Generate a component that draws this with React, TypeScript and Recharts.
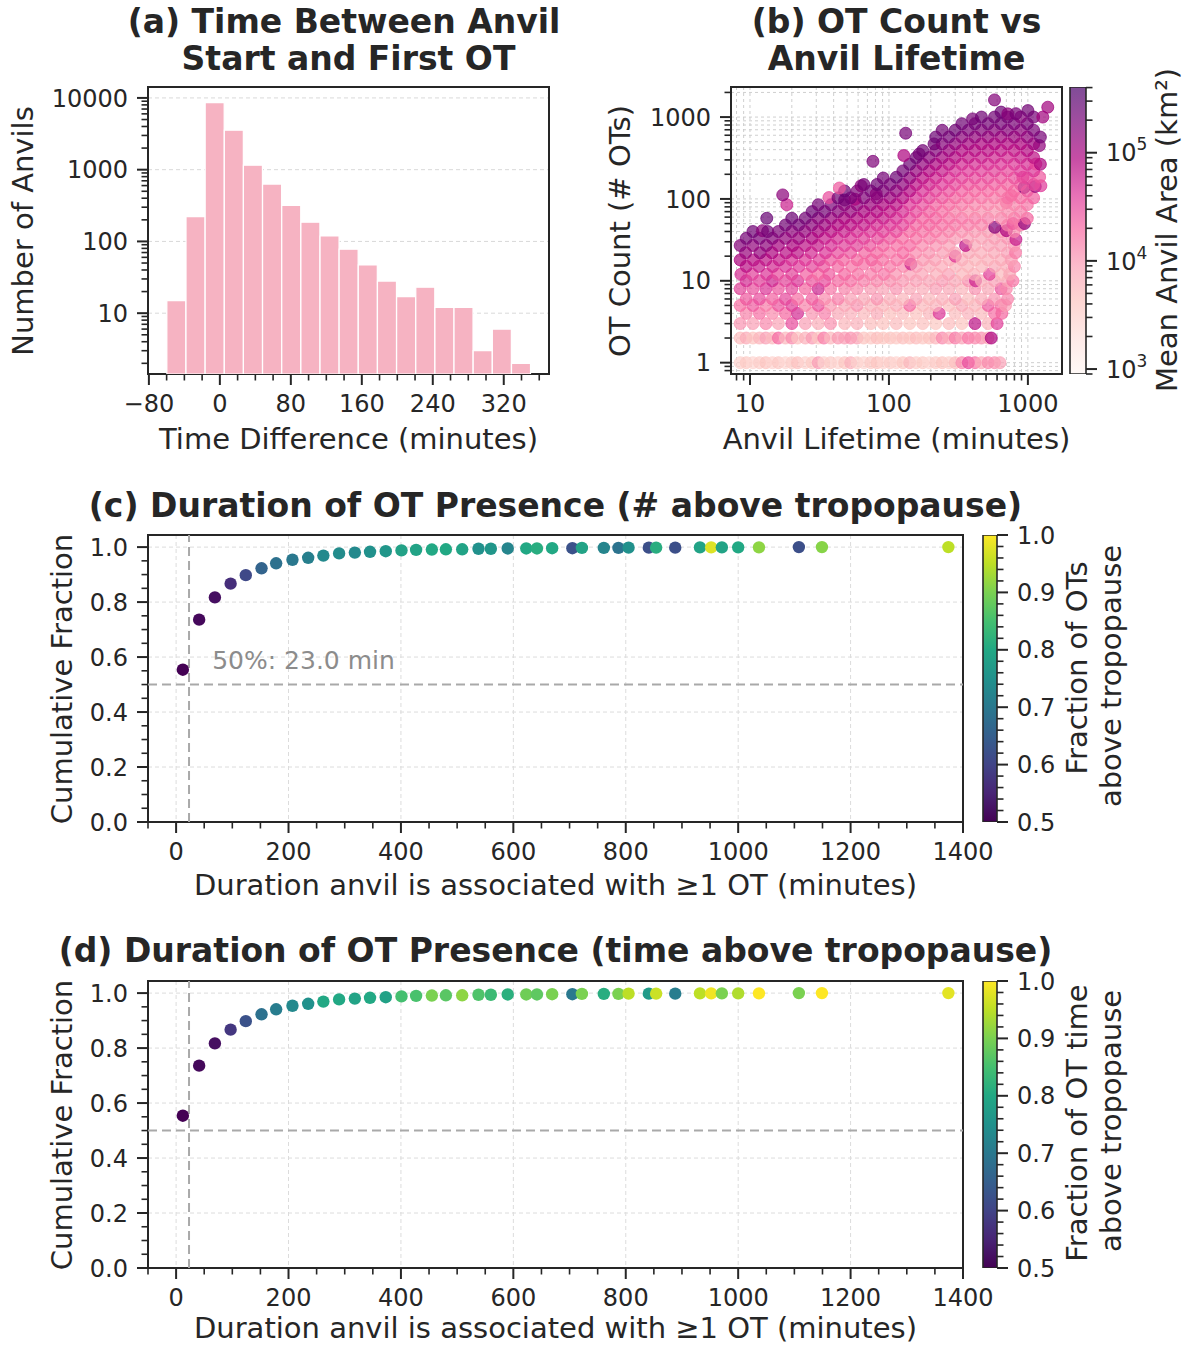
import React from 'react';
import {
  Bar,
  CartesianGrid,
  ComposedChart,
  ReferenceArea,
  ReferenceLine,
  Scatter,
  ScatterChart,
  XAxis,
  YAxis,
} from 'recharts';

const FONT = '"DejaVu Sans", "Liberation Sans", sans-serif';
const INK = '#262626';

// (a) time between anvil start and first OT, 19 bins
const binCenters = [-49.0, -27.4, -5.8, 15.8, 37.3, 58.9, 80.5, 102.1, 123.7, 145.2, 166.8, 188.4, 210.0, 231.6, 253.2, 274.7, 296.3, 317.9, 339.5];
const binCounts = [15, 221, 8610, 3550, 1156, 629, 318, 185, 119, 78, 47, 28, 17, 23, 12, 12, 3, 6, 2];

// (b) OT count vs anvil lifetime. [lifetime min, area km2] for the 1 and 2 OT rows
const otSingle: [number, number][] = [
  [8.5, 3000], [9.4, 3600], [10.5, 2600], [11.7, 3300], [13, 4200], [14.5, 2800], [16, 3800], [18, 2500], [20, 3200], [22, 4500],
  [25, 2800], [28, 3600], [31, 9500], [34, 3000], [38, 3500], [43, 2700], [48, 3900], [53, 6500], [59, 3100], [66, 2600],
  [74, 3500], [82, 4200], [91, 2800], [102, 3400], [113, 2700], [126, 3900], [141, 5500], [157, 3100], [175, 3600], [195, 2600],
  [217, 3400], [242, 4200], [270, 3100], [300, 4900], [335, 12000], [373, 30000], [416, 16000], [463, 7000], [517, 12000], [575, 11000], [630, 8500],
];
const otDouble: [number, number][] = [
  [8.5, 5000], [9.4, 7000], [10.5, 4200], [11.7, 6000], [13, 8500], [14.5, 5400], [16, 20000], [18, 5600], [20, 12500], [22, 4500],
  [25, 6300], [28, 9800], [31, 4200], [34, 15000], [38, 5600], [43, 9800], [48, 9000], [53, 10500], [59, 8400], [66, 4200],
  [74, 3700], [82, 4800], [91, 3900], [102, 4200], [113, 3500], [126, 4500], [141, 4100], [157, 5000], [175, 3800], [195, 4300],
  [217, 5600], [242, 12500], [270, 7000], [300, 15000], [335, 8400], [373, 16000], [416, 12500], [463, 11000], [517, 7700], [545, 90000],
];
// [lifetime min, OT count, area km2]
const otLow: [number, number, number][] = [
  [8.5, 3, 10500], [10.5, 3, 9000], [13, 3, 12500], [16, 3, 8200], [20, 3, 30000], [25, 3, 9000], [31, 3, 6800], [38, 3, 11000], [48, 3, 5700], [59, 3, 6300], [74, 3, 4800], [91, 3, 4400], [113, 3, 5200], [141, 3, 4100], [175, 3, 4500], [217, 3, 3900], [270, 3, 5000], [335, 3, 4200], [416, 3, 70000], [517, 3, 6000], [600, 3, 36000],
  [9.4, 4, 13500], [11.7, 4, 18000], [14.5, 4, 12000], [18, 4, 20000], [22, 4, 48000], [28, 4, 10500], [34.5, 4, 14000], [43, 4, 7500], [53, 4, 6500], [66, 4, 5400], [82, 4, 7200], [102, 4, 4700], [126, 4, 5100], [157, 4, 4400], [195, 4, 5700], [230, 4, 42000], [300, 4, 5000], [373, 4, 6300], [463, 4, 5400], [575, 4, 18000], [650, 4, 20000],
  [8.5, 5, 18000], [10.5, 5, 24000], [13, 5, 15000], [16, 5, 26000], [20, 5, 36000], [25, 5, 13500], [31, 5, 26000], [38, 5, 9800], [48, 5, 7500], [59, 5, 10500], [74, 5, 6300], [91, 5, 5700], [113, 5, 6800], [141, 5, 20000], [175, 5, 5400], [217, 5, 6200], [270, 5, 5000], [335, 5, 7800], [416, 5, 5900], [517, 5, 24000], [641, 5, 18000], [690, 5, 9000],
  [9.4, 6, 25000], [11.7, 6, 30000], [14.5, 6, 22000], [18, 6, 32000], [22, 6, 18000], [28, 6, 22000], [34.5, 6, 12000], [43, 6, 14000], [53, 6, 9000], [66, 6, 7800], [82, 6, 10500], [102, 6, 6900], [126, 6, 6000], [157, 6, 8200], [195, 6, 5500], [242, 6, 6400], [300, 6, 9000], [373, 6, 5200], [463, 6, 7200], [575, 6, 10500], [714, 6, 13500],
  [8.5, 8, 34000], [10.5, 8, 28000], [13, 8, 42000], [16, 8, 26000], [20, 8, 32000], [25, 8, 20000], [31, 8, 54000], [38, 8, 16000], [48, 8, 13500], [59, 8, 12000], [74, 8, 9800], [91, 8, 8200], [113, 8, 10500], [141, 8, 7500], [175, 8, 6800], [217, 8, 9000], [270, 8, 7800], [335, 8, 6000], [416, 8, 11000], [517, 8, 7500], [641, 8, 26000], [700, 8, 12000],
  [9.4, 10, 48000], [11.7, 10, 36000], [14.5, 10, 54000], [18, 10, 34000], [22, 10, 42000], [28, 10, 26000], [34.5, 10, 30000], [43, 10, 20000], [53, 10, 18000], [66, 10, 14000], [82, 10, 13000], [102, 10, 11500], [126, 10, 10000], [157, 10, 9000], [195, 10, 8000], [242, 10, 9500], [300, 10, 7500], [373, 10, 11500], [420, 10, 54000], [463, 10, 6800], [575, 10, 9000], [714, 10, 8000], [780, 10, 16000],
];
const otMid: [number, number, number][] = [
  [8.6, 12, 48000], [10.4, 12, 36000], [13.2, 12, 42000], [15.8, 12, 30000], [20, 12, 34000], [25.5, 12, 22000], [31, 12, 19000], [37, 12, 24000], [48, 12, 20000], [60, 12, 17000], [74, 12, 14000], [92, 12, 16000], [112, 12, 11000], [141, 12, 9000], [173, 12, 8000], [220, 12, 6600], [268, 12, 8700], [338, 12, 5700], [410, 12, 6300], [530, 12, 35000], [645, 12, 5400], [740, 12, 7500],
  [9.4, 15, 72000], [11.6, 15, 60000], [14.6, 15, 50000], [18, 15, 44000], [22.5, 15, 38000], [28, 15, 33000], [34, 15, 26000], [43, 15, 21000], [54, 15, 17000], [66, 16, 18000], [81, 15, 17000], [102, 15, 15000], [127, 15, 12500], [144, 16, 55000], [158, 15, 9500], [196, 15, 7800], [240, 15, 7200], [302, 15, 6300], [371, 15, 6000], [465, 15, 5800], [578, 15, 7500], [710, 15, 6800], [800, 15, 13000],
  [8.5, 18, 90000], [10.6, 18, 75000], [13, 18, 68000], [16.2, 18, 62000], [20, 18, 45000], [25, 18, 40000], [31.5, 18, 36000], [38, 18, 25000], [47, 18, 21000], [59, 18, 20000], [75, 18, 21000], [90, 18, 17000], [114, 18, 16000], [140, 18, 14000], [176, 18, 9800], [215, 18, 8700], [272, 18, 7200], [300, 20, 40000], [336, 18, 6900], [418, 18, 6000], [515, 18, 6600], [640, 18, 7200], [760, 18, 9000],
  [9.3, 22, 120000], [11.8, 22, 130000], [14.4, 22, 90000], [18.2, 22, 75000], [22, 22, 70000], [27.6, 22, 50000], [35, 22, 42000], [43, 22, 30000], [53, 22, 26000], [67, 22, 21000], [82, 22, 20000], [101, 22, 16000], [126, 22, 19000], [156, 22, 12500], [194, 22, 10500], [244, 22, 9300], [298, 22, 8100], [375, 22, 7500], [460, 22, 6900], [572, 22, 7800], [712, 22, 9000], [815, 22, 15000],
  [8.5, 27, 160000], [10.5, 27, 135000], [13.1, 27, 145000], [16, 27, 100000], [20.3, 27, 90000], [25, 27, 70000], [30.8, 27, 62000], [38.5, 27, 45000], [48, 27, 36000], [59, 27, 34000], [73, 27, 26000], [91, 27, 21000], [114, 27, 18000], [141, 27, 19000], [174, 27, 12500], [218, 27, 10800], [270, 27, 9000], [356, 27, 70000], [415, 27, 7500], [520, 27, 8200], [640, 27, 9000], [797, 27, 10500],
  [9.4, 33, 210000], [11.7, 33, 190000], [14.5, 33, 160000], [18, 33, 130000], [22.4, 33, 115000], [28, 33, 90000], [34.5, 33, 60000], [42.5, 33, 48000], [53, 33, 42000], [66, 33, 35000], [83, 33, 30000], [102, 33, 24000], [125, 33, 18000], [157, 33, 17000], [196, 33, 15000], [242, 33, 12500], [300, 33, 10000], [372, 33, 9000], [464, 33, 8400], [575, 33, 9300], [715, 33, 10500], [820, 32, 60000],
  [10.5, 40, 230000], [12.3, 41, 150000], [13.4, 40, 210000], [16, 40, 180000], [20, 40, 140000], [24.8, 40, 125000], [31, 40, 95000], [38.4, 40, 72000], [47.7, 40, 58000], [59, 40, 46000], [73.5, 40, 40000], [91, 40, 35000], [113, 40, 30000], [141, 40, 20000], [175, 40, 17000], [217, 40, 15500], [270, 40, 13500], [335, 40, 10800], [416, 40, 9800], [517, 40, 9300], [641, 40, 10500], [700, 41, 90000], [797, 40, 12000],
  [18, 48, 220000], [22.4, 48, 200000], [27.8, 48, 150000], [34.5, 48, 115000], [43, 48, 85000], [53, 48, 72000], [66, 48, 60000], [82, 48, 46000], [102, 48, 40000], [126, 48, 32000], [157, 48, 21000], [195, 48, 20000], [242, 48, 17000], [300, 48, 15000], [373, 48, 13800], [463, 48, 12900], [578, 45, 160000], [714, 48, 13500], [780, 50, 25000], [886, 48, 15000], [945, 50, 130000],
  [13.2, 58, 260000], [20, 58, 240000], [25, 58, 220000], [31, 58, 150000], [38.4, 58, 115000], [47.7, 58, 90000], [59, 58, 78000], [73.5, 58, 66000], [91, 58, 58000], [113, 58, 44000], [141, 58, 30000], [175, 58, 21000], [217, 58, 21000], [270, 58, 17000], [335, 58, 16000], [416, 58, 15000], [517, 58, 14000], [641, 58, 13500], [797, 58, 15500], [990, 58, 20000],
];
const otHigh: [number, number, number][] = [
  [28, 70, 240000], [34.5, 70, 210000], [43, 70, 150000], [53, 70, 125000], [66, 70, 95000], [82, 70, 80000], [102, 70, 62000], [126, 70, 46000], [157, 70, 30000], [195, 70, 22000], [242, 70, 18000], [300, 70, 13500], [373, 70, 11500], [463, 70, 11000], [575, 70, 10000], [700, 90, 22000], [714, 70, 12000], [886, 70, 14000],
  [18.4, 85, 55000], [31, 85, 200000], [38.4, 85, 190000], [47.7, 85, 150000], [59, 85, 135000], [73.5, 85, 115000], [91, 85, 88000], [113, 85, 72000], [141, 85, 40000], [175, 85, 28000], [217, 85, 21000], [270, 85, 18000], [335, 85, 15000], [416, 85, 13000], [517, 85, 12500], [641, 85, 11500], [797, 85, 13000], [990, 85, 16000],
  [17.2, 112, 150000], [37, 104, 30000], [48, 97, 200000], [57, 99, 90000], [43, 103, 220000], [53, 103, 200000], [66, 103, 170000], [82, 103, 140000], [102, 103, 115000], [126, 103, 78000], [157, 103, 44000], [195, 103, 32000], [242, 103, 25000], [300, 103, 20000], [373, 103, 18000], [463, 103, 16000], [575, 103, 15000], [714, 103, 17000], [760, 110, 18000], [886, 103, 19000], [1100, 103, 22000],
  [48, 125, 240000], [59, 125, 180000], [74, 125, 200000], [81, 115, 150000], [91, 125, 170000], [113, 125, 135000], [141, 125, 80000], [175, 125, 45000], [217, 125, 34000], [270, 125, 27000], [335, 125, 22000], [416, 125, 20000], [517, 125, 18500], [641, 125, 17500], [797, 125, 19000], [940, 138, 200000], [990, 125, 24000], [1130, 142, 120000], [1240, 145, 40000],
  [44, 136, 25000], [63, 145, 150000], [66, 150, 210000], [82, 150, 230000], [102, 150, 190000], [126, 150, 140000], [157, 150, 72000], [195, 150, 50000], [242, 150, 38000], [300, 150, 30000], [373, 150, 25000], [463, 150, 24000], [575, 150, 22000], [714, 150, 21000], [886, 150, 23000], [1100, 150, 28000],
  [91, 180, 210000], [113, 184, 240000], [141, 180, 130000], [175, 180, 72000], [217, 180, 52000], [270, 180, 40000], [335, 180, 33000], [416, 180, 30000], [517, 180, 28000], [641, 180, 26000], [797, 180, 27000], [920, 184, 30000], [990, 180, 32000], [1215, 185, 25000],
  [126, 220, 210000], [157, 220, 125000], [195, 220, 80000], [242, 220, 62000], [300, 220, 44000], [373, 220, 38000], [463, 220, 36000], [575, 220, 34000], [714, 220, 30000], [886, 220, 38000], [1100, 220, 42000],
  [76.7, 288, 180000], [141, 265, 230000], [175, 265, 130000], [217, 265, 90000], [270, 265, 68000], [335, 265, 50000], [416, 265, 46000], [517, 265, 43000], [641, 265, 41000], [797, 265, 40000], [990, 265, 45000], [1140, 267, 30000], [1230, 265, 90000],
  [128, 339, 90000], [157, 320, 230000], [195, 320, 150000], [242, 320, 100000], [300, 320, 76000], [373, 320, 64000], [463, 320, 58000], [575, 320, 52000], [714, 320, 48000], [886, 320, 55000], [1100, 320, 70000],
  [165, 354, 200000], [175, 390, 220000], [217, 390, 160000], [270, 390, 115000], [335, 390, 82000], [416, 390, 76000], [517, 390, 72000], [641, 390, 66000], [797, 390, 64000], [990, 390, 78000], [1210, 448, 140000],
];
const otTop: [number, number, number][] = [
  [211, 470, 220000], [242, 470, 160000], [300, 470, 125000], [373, 470, 100000], [463, 470, 90000], [575, 470, 86000], [714, 470, 80000], [886, 470, 88000], [1100, 470, 115000],
  [132, 635, 200000], [217, 570, 240000], [270, 570, 200000], [335, 570, 145000], [416, 570, 130000], [517, 570, 120000], [641, 570, 110000], [797, 570, 118000], [990, 570, 135000], [1230, 570, 200000],
  [242, 690, 220000], [300, 690, 230000], [373, 690, 180000], [463, 690, 165000], [575, 690, 150000], [714, 690, 155000], [886, 690, 140000], [1100, 690, 190000],
  [335, 830, 230000], [416, 830, 215000], [517, 830, 205000], [641, 830, 200000], [797, 830, 185000], [990, 830, 200000],
  [400, 950, 200000], [463, 1000, 230000], [575, 1000, 220000], [714, 1000, 210000], [886, 1000, 160000], [1100, 1000, 200000], [1280, 1000, 110000],
  [641, 1150, 240000], [717, 1095, 150000], [820, 1100, 200000], [1000, 1200, 220000], [575, 1620, 170000], [1390, 1320, 110000],
];

// (c)/(d) cumulative fraction of anvils vs duration with >=1 OT
const durations = [12, 41, 69, 97, 124, 152, 178, 207, 235, 262, 290, 318, 345, 373, 401, 427, 455, 480, 509, 538, 560, 590, 623, 642, 669, 705, 722, 761, 787, 805, 841, 854, 888, 932, 952, 971, 1000, 1037, 1108, 1149, 1374];
const cumFraction = [0.554, 0.736, 0.817, 0.867, 0.898, 0.923, 0.941, 0.954, 0.961, 0.969, 0.977, 0.98, 0.983, 0.985, 0.988, 0.99, 0.991, 0.992, 0.992, 0.994, 0.994, 0.995, 0.995, 0.995, 0.996, 0.996, 0.997, 0.997, 0.997, 0.998, 0.998, 0.998, 0.998, 0.999, 0.999, 0.999, 0.999, 0.999, 1.0, 1.0, 1.0];
const fracOTsAbove = [0.5, 0.51, 0.52, 0.565, 0.61, 0.66, 0.685, 0.7, 0.715, 0.735, 0.74, 0.735, 0.75, 0.76, 0.785, 0.79, 0.8, 0.8, 0.79, 0.75, 0.76, 0.725, 0.8, 0.81, 0.8, 0.625, 0.79, 0.725, 0.69, 0.75, 0.62, 0.81, 0.62, 0.79, 0.975, 0.79, 0.8, 0.915, 0.62, 0.91, 0.95];
const fracTimeAbove = [0.5, 0.51, 0.52, 0.58, 0.625, 0.685, 0.71, 0.735, 0.75, 0.8, 0.8, 0.79, 0.8, 0.785, 0.85, 0.855, 0.9, 0.87, 0.915, 0.86, 0.84, 0.815, 0.89, 0.875, 0.9, 0.7, 0.9, 0.81, 0.9, 0.95, 0.77, 0.96, 0.71, 0.95, 0.99, 0.9, 0.94, 1.0, 0.9, 1.0, 0.98];

// colour maps
const RDPU = ['#fff7f3', '#fde0dd', '#fcc5c0', '#fa9fb5', '#f768a1', '#dd3497', '#ae017e', '#7a0177', '#49006a'];
const VIRIDIS = ['#440154', '#482475', '#414487', '#355f8d', '#2a788e', '#21918c', '#22a884', '#44bf70', '#7ad151', '#bddf26', '#fde725'];
const AREA_MIN = 900;
const AREA_MAX = 405000;
const DOT_ALPHA = 0.7;

function hexRgb(h: string) {
  return [1, 3, 5].map((i) => parseInt(h.slice(i, i + 2), 16));
}
function ramp(stops: string[], t: number) {
  const c = Math.min(1, Math.max(0, t)) * (stops.length - 1);
  const i = Math.min(stops.length - 2, Math.floor(c));
  const f = c - i;
  const a = hexRgb(stops[i]);
  const b = hexRgb(stops[i + 1]);
  const m = a.map((v, k) => Math.round(v + (b[k] - v) * f));
  return `rgb(${m[0]},${m[1]},${m[2]})`;
}
const areaColor = (a: number) =>
  ramp(RDPU, (Math.log10(a) - Math.log10(AREA_MIN)) / (Math.log10(AREA_MAX) - Math.log10(AREA_MIN)));
const fracColor = (f: number) => ramp(VIRIDIS, (f - 0.5) / 0.5);

// ticks
const MAJOR_LEN = 11;
const MINOR_LEN = 6.5;
const sameVal = (a: number, b: number) => Math.abs(a - b) <= 1e-6 * Math.max(1, Math.abs(a));
const logMinors = (lo: number, hi: number) => {
  const out: number[] = [];
  for (let e = -1; e <= 6; e++) {
    for (let d = 2; d <= 9; d++) {
      const v = +(d * 10 ** e).toPrecision(3);
      if (v >= lo && v <= hi) out.push(v);
    }
  }
  return out;
};
const steps = (a: number, b: number, s: number) =>
  Array.from({ length: Math.round((b - a) / s) + 1 }, (_, i) => +(a + i * s).toFixed(4));
const merge = (a: number[], b: number[]) => [...a, ...b.filter((v) => !a.some((m) => sameVal(m, v)))].sort((x, y) => x - y);
const plain = (v: number) => (v < 0 ? `\u2212${-v}` : `${v}`);
const oneDec = (v: number) => v.toFixed(1);
const pow10 = (v: number) => (
  <>
    10
    <tspan dy={-11} fontSize={17}>
      {Math.round(Math.log10(v))}
    </tspan>
  </>
);

function bottomTick(majors: number[], fmt: (v: number) => React.ReactNode) {
  return (props: any) => {
    const { x, y, payload } = props;
    const v = Number(payload.value);
    const major = majors.some((m) => sameVal(m, v));
    return (
      <g>
        <line x1={x} y1={y} x2={x} y2={y + (major ? MAJOR_LEN : MINOR_LEN)} stroke={INK} strokeWidth={major ? 2 : 1.6} />
        {major && (
          <text x={x} y={y + 38} textAnchor="middle" fontSize={24} fontFamily={FONT} fill={INK}>
            {fmt(v)}
          </text>
        )}
      </g>
    );
  };
}

function sideTick(side: 'left' | 'right', majors: number[], fmt: (v: number) => React.ReactNode) {
  return (props: any) => {
    const { x, y, payload } = props;
    const v = Number(payload.value);
    const major = majors.some((m) => sameVal(m, v));
    const dir = side === 'left' ? -1 : 1;
    return (
      <g>
        <line x1={x} y1={y} x2={x + dir * (major ? MAJOR_LEN : MINOR_LEN)} y2={y} stroke={INK} strokeWidth={major ? 2 : 1.6} />
        {major && (
          <text
            x={x + dir * (MAJOR_LEN + 9)}
            y={y}
            dy="0.36em"
            textAnchor={side === 'left' ? 'end' : 'start'}
            fontSize={24}
            fontFamily={FONT}
            fill={INK}
          >
            {fmt(v)}
          </text>
        )}
      </g>
    );
  };
}

const axisCommon = {
  tickSize: 0,
  tickMargin: 0,
  tickLine: false,
  axisLine: false,
  interval: 0 as const,
  allowDataOverflow: true,
};

function Txt({ x, y, size, bold, rotate, color, children }: any) {
  return (
    <div
      style={{
        position: 'absolute',
        left: x,
        top: y,
        transform: `translate(-50%, -50%)${rotate ? ' rotate(-90deg)' : ''}`,
        fontSize: size,
        fontWeight: bold ? 700 : 400,
        whiteSpace: 'nowrap',
        lineHeight: 1.1,
        color: color ?? INK,
      }}
    >
      {children}
    </div>
  );
}

// (a)
const histRows = binCenters.map((c, i) => ({ mid: c, count: binCounts[i] }));
const histMajorX = [-80, 0, 80, 160, 240, 320];
const histMajorY = [10, 100, 1000, 10000];
const HIST_X: [number, number] = [-81, 371];
const HIST_Y: [number, number] = [1.42, 14200];

function HistogramPanel() {
  return (
    <ComposedChart width={519} height={354} data={histRows} margin={{ top: 17, right: 10, bottom: 0, left: 0 }} barCategoryGap={0} barGap={0}>
      <CartesianGrid vertical={false} horizontalValues={histMajorY} stroke="#d9d9d9" strokeDasharray="4 3" strokeWidth={1} />
      <XAxis
        type="number"
        dataKey="mid"
        domain={HIST_X}
        ticks={merge(histMajorX, steps(-60, 360, 20))}
        height={50}
        tick={bottomTick(histMajorX, plain)}
        {...axisCommon}
      />
      <YAxis
        type="number"
        scale="log"
        domain={HIST_Y}
        ticks={merge(histMajorY, logMinors(HIST_Y[0], HIST_Y[1]))}
        width={108}
        tick={sideTick('left', histMajorY, plain)}
        {...axisCommon}
      />
      <Bar dataKey="count" fill="#f6b3c2" stroke="#ffffff" strokeWidth={1.2} isAnimationActive={false} />
      <ReferenceArea x1={HIST_X[0]} x2={HIST_X[1]} y1={HIST_Y[0]} y2={HIST_Y[1]} fill="none" stroke={INK} strokeWidth={2} ifOverflow="visible" />
    </ComposedChart>
  );
}

// (b)
const otPoints = [
  ...otSingle.map(([l, a]) => ({ life: l, ots: 1, area: a })),
  ...otDouble.map(([l, a]) => ({ life: l, ots: 2, area: a })),
  ...[...otLow, ...otMid, ...otHigh, ...otTop].map(([l, n, a]) => ({ life: l, ots: n, area: a })),
];
const lifeMajor = [10, 100, 1000];
const countMajor = [1, 10, 100, 1000];
const LIFE_DOM: [number, number] = [7.3, 1760];
const COUNT_DOM: [number, number] = [0.727, 2330];

const otDot = (p: any) => {
  const c = areaColor(p.payload.area);
  return <circle cx={p.cx} cy={p.cy} r={6} fill={c} fillOpacity={DOT_ALPHA} stroke={c} strokeOpacity={DOT_ALPHA} strokeWidth={1} />;
};

function ScatterPanel() {
  return (
    <ScatterChart width={432} height={354} margin={{ top: 17, right: 10, bottom: 0, left: 0 }}>
      <CartesianGrid stroke="#c9c9c9" strokeDasharray="3 3" strokeWidth={0.9} />
      <XAxis
        type="number"
        dataKey="life"
        scale="log"
        domain={LIFE_DOM}
        ticks={merge(lifeMajor, logMinors(LIFE_DOM[0], LIFE_DOM[1]))}
        height={50}
        tick={bottomTick(lifeMajor, plain)}
        {...axisCommon}
      />
      <YAxis
        type="number"
        dataKey="ots"
        scale="log"
        domain={COUNT_DOM}
        ticks={merge(countMajor, logMinors(COUNT_DOM[0], COUNT_DOM[1]))}
        width={91}
        tick={sideTick('left', countMajor, plain)}
        {...axisCommon}
      />
      <Scatter data={otPoints} shape={otDot} isAnimationActive={false} />
      <ReferenceArea x1={LIFE_DOM[0]} x2={LIFE_DOM[1]} y1={COUNT_DOM[0]} y2={COUNT_DOM[1]} fill="none" stroke={INK} strokeWidth={2} ifOverflow="visible" />
    </ScatterChart>
  );
}

// colour bars: one full-height bar filled with the colormap gradient
const areaMajor = [1000, 10000, 100000];
const AREA_DOM: [number, number] = [AREA_MIN, AREA_MAX];
const areaBarRow = [{ name: 'area', top: AREA_MAX }];

function AreaColorbar() {
  return (
    <ComposedChart width={96} height={324} data={areaBarRow} margin={{ top: 17, right: 0, bottom: 20, left: 10 }} barCategoryGap={0}>
      <defs>
        <linearGradient id="rdpuGrad" x1="0" y1="1" x2="0" y2="0">
          {RDPU.map((c, i) => (
            <stop key={c} offset={i / (RDPU.length - 1)} stopColor={c} stopOpacity={DOT_ALPHA} />
          ))}
        </linearGradient>
      </defs>
      <XAxis type="category" dataKey="name" hide />
      <YAxis
        type="number"
        orientation="right"
        scale="log"
        domain={AREA_DOM}
        ticks={merge(areaMajor, logMinors(AREA_DOM[0], AREA_DOM[1]))}
        width={70}
        tick={sideTick('right', areaMajor, pow10)}
        {...axisCommon}
      />
      <Bar dataKey="top" fill="url(#rdpuGrad)" stroke={INK} strokeWidth={1.6} isAnimationActive={false} />
    </ComposedChart>
  );
}

// (c) / (d)
const durMajor = steps(0, 1400, 200);
const cumMajor = steps(0, 1, 0.2);
const DUR_DOM: [number, number] = [-50, 1400];
const CUM_DOM: [number, number] = [0, 1.044];

function CdfPanel({ frac, id }: { frac: number[]; id: string }) {
  const rows = durations.map((d, i) => ({ dur: d, cum: cumFraction[i], frac: frac[i] }));
  const dot = (p: any) => <circle cx={p.cx} cy={p.cy} r={6.2} fill={fracColor(p.payload.frac)} />;
  return (
    <ScatterChart width={963} height={354} margin={{ top: 17, right: 40, bottom: 0, left: 0 }} id={id}>
      <CartesianGrid horizontalValues={cumMajor} verticalValues={durMajor} stroke="#dcdcdc" strokeDasharray="4 3" strokeWidth={1} />
      <XAxis
        type="number"
        dataKey="dur"
        domain={DUR_DOM}
        ticks={merge(durMajor, steps(-50, 1400, 50))}
        height={50}
        tick={bottomTick(durMajor, plain)}
        {...axisCommon}
      />
      <YAxis
        type="number"
        dataKey="cum"
        domain={CUM_DOM}
        ticks={merge(cumMajor, steps(0, 1, 0.05))}
        width={108}
        tick={sideTick('left', cumMajor, oneDec)}
        {...axisCommon}
      />
      <ReferenceLine y={0.5} stroke="#a9a9a9" strokeWidth={2} strokeDasharray="9 5" />
      <ReferenceLine x={23} stroke="#a9a9a9" strokeWidth={2} strokeDasharray="9 5" />
      <Scatter data={rows} shape={dot} isAnimationActive={false} />
      <ReferenceArea x1={DUR_DOM[0]} x2={DUR_DOM[1]} y1={CUM_DOM[0]} y2={CUM_DOM[1]} fill="none" stroke={INK} strokeWidth={2} ifOverflow="visible" />
    </ScatterChart>
  );
}

const fracMajor = steps(0.5, 1, 0.1);
const fracBarRow = [{ name: 'frac', top: 1 }];

function FracColorbar({ gid }: { gid: string }) {
  return (
    <ComposedChart width={84} height={324} data={fracBarRow} margin={{ top: 17, right: 0, bottom: 20, left: 10 }} barCategoryGap={0}>
      <defs>
        <linearGradient id={gid} x1="0" y1="1" x2="0" y2="0">
          {VIRIDIS.map((c, i) => (
            <stop key={c} offset={i / (VIRIDIS.length - 1)} stopColor={c} />
          ))}
        </linearGradient>
      </defs>
      <XAxis type="category" dataKey="name" hide />
      <YAxis
        type="number"
        orientation="right"
        domain={[0.5, 1]}
        ticks={merge(fracMajor, steps(0.5, 1, 0.02))}
        width={60}
        tick={sideTick('right', fracMajor, oneDec)}
        {...axisCommon}
      />
      <Bar dataKey="top" fill={`url(#${gid})`} stroke={INK} strokeWidth={1.6} isAnimationActive={false} />
    </ComposedChart>
  );
}

export default function App() {
  return (
    <div
      style={{
        position: 'relative',
        width: 1188,
        height: 1346,
        background: '#ffffff',
        fontFamily: FONT,
        color: INK,
        overflow: 'hidden',
      }}
    >
      <style>{'body{margin:0;background:#fff}'}</style>

      {/* (a) */}
      <Txt x={344} y={22} size={33} bold>(a) Time Between Anvil</Txt>
      <Txt x={348.5} y={59} size={33} bold>Start and First OT</Txt>
      <div style={{ position: 'absolute', left: 40, top: 70 }}>
        <HistogramPanel />
      </div>
      <Txt x={24} y={231} size={29} rotate>Number of Anvils</Txt>
      <Txt x={348.5} y={440} size={29}>Time Difference (minutes)</Txt>

      {/* (b) */}
      <Txt x={896.5} y={22} size={33} bold>(b) OT Count vs</Txt>
      <Txt x={896.5} y={59} size={33} bold>Anvil Lifetime</Txt>
      <div style={{ position: 'absolute', left: 640, top: 70 }}>
        <ScatterPanel />
      </div>
      <div style={{ position: 'absolute', left: 1060, top: 70 }}>
        <AreaColorbar />
      </div>
      <Txt x={621} y={231} size={29} rotate>OT Count (# OTs)</Txt>
      <Txt x={896.5} y={440} size={29}>Anvil Lifetime (minutes)</Txt>
      <Txt x={1168} y={230} size={29} rotate>Mean Anvil Area (km²)</Txt>

      {/* (c) */}
      <Txt x={555.5} y={506} size={33} bold>(c) Duration of OT Presence (# above tropopause)</Txt>
      <div style={{ position: 'absolute', left: 40, top: 518 }}>
        <CdfPanel frac={fracOTsAbove} id="cdf-c" />
      </div>
      <div style={{ position: 'absolute', left: 973, top: 518 }}>
        <FracColorbar gid="viridisC" />
      </div>
      <Txt x={303.5} y={661} size={25} color="#8c8c8c">50%: 23.0 min</Txt>
      <Txt x={63} y={678.5} size={29} rotate>Cumulative Fraction</Txt>
      <Txt x={555.5} y={886} size={29}>Duration anvil is associated with ≥1 OT (minutes)</Txt>
      <Txt x={1078} y={668} size={29} rotate>Fraction of OTs</Txt>
      <Txt x={1112} y={676} size={29} rotate>above tropopause</Txt>

      {/* (d) */}
      <Txt x={555.5} y={951} size={33} bold>(d) Duration of OT Presence (time above tropopause)</Txt>
      <div style={{ position: 'absolute', left: 40, top: 964 }}>
        <CdfPanel frac={fracTimeAbove} id="cdf-d" />
      </div>
      <div style={{ position: 'absolute', left: 973, top: 964 }}>
        <FracColorbar gid="viridisD" />
      </div>
      <Txt x={63} y={1124.5} size={29} rotate>Cumulative Fraction</Txt>
      <Txt x={555.5} y={1329} size={29}>Duration anvil is associated with ≥1 OT (minutes)</Txt>
      <Txt x={1078} y={1123} size={29} rotate>Fraction of OT time</Txt>
      <Txt x={1112} y={1121} size={29} rotate>above tropopause</Txt>
    </div>
  );
}
